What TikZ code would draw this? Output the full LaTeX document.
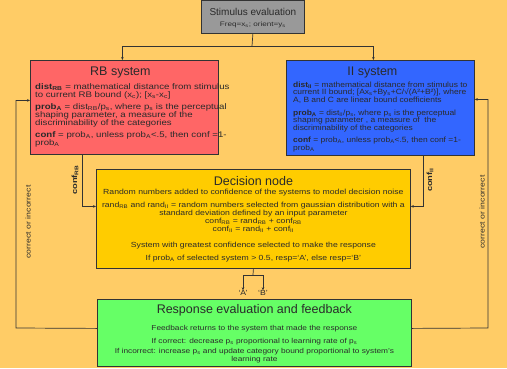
\documentclass[tikz,border=0pt]{standalone}
\usepackage{fontspec}
\setmainfont{Liberation Sans}
\newfontfamily\widesys{Liberation Sans}[FakeStretch=1.25]
\newfontfamily\widerb{Liberation Sans}[FakeStretch=1.19]
\newfontfamily\wideii{Liberation Sans}[FakeStretch=1.11]
\newfontfamily\widedec{Liberation Sans}[FakeStretch=1.17]
\usetikzlibrary{arrows.meta}
\definecolor{bgorange}{HTML}{FFCC66}
\definecolor{stimgray}{HTML}{999999}
\definecolor{rbred}{HTML}{FF6666}
\definecolor{iiblue}{HTML}{3366FF}
\definecolor{decyellow}{HTML}{FFCC00}
\definecolor{respgreen}{HTML}{66FF66}
\definecolor{boxline}{HTML}{333333}
\definecolor{textgray}{HTML}{2A2A2A}
\newcommand{\sbs}[1]{\textsubscript{#1}}

\begin{document}
\begin{tikzpicture}[x=1pt,y=-1pt,
  box/.style={draw=boxline, line width=0.8pt, inner sep=0pt, anchor=north west},
  title/.style={font=\fontsize{12.5}{14}\selectfont, text=textgray, inner sep=0pt},
  sysbody/.style={font=\widerb\fontsize{8.1}{8}\selectfont, text=textgray, inner sep=0pt},
  body/.style={font=\widedec\fontsize{7.4}{8}\selectfont, text=textgray, inner sep=0pt},
  side/.style={font=\widesys\fontsize{7}{8}\selectfont, text=textgray, inner sep=0pt, rotate=90},
  link/.style={draw=boxline, line width=0.7pt},
  tip/.style={-{Stealth[length=3pt,width=2.6pt]}}]
        \useasboundingbox (0,0) rectangle (507,368);
        \fill[bgorange] (0,0) rectangle (507,368);
        \node[box, fill=stimgray, minimum width=103pt, minimum height=33.5pt] (stim) at (201,-0.5) {};
        \node[box, fill=rbred, minimum width=188pt, minimum height=94pt] (rb) at (30,60) {};
        \node[box, fill=iiblue, minimum width=188pt, minimum height=95pt] (ii) at (286,60) {};
        \node[box, fill=decyellow, minimum width=314pt, minimum height=99pt] (dec) at (96,169) {};
        \node[box, fill=respgreen, minimum width=314pt, minimum height=67pt] (resp) at (97,299) {};

        \node[title, font=\fontsize{10}{11}\selectfont] (stimtitle) at ([yshift=-12pt]stim.north) {Stimulus evaluation};
        \node[body, font=\widesys\fontsize{6.5}{7}\selectfont] (stimtext) at ([yshift=-25.5pt]stim.north) {Freq=x\sbs{s}; orient=y\sbs{s}};

        \node[title] (rbtitle) at ([xshift=-4pt,yshift=-12pt]rb.north) {RB system};
        \node[sysbody, anchor=north west, align=left] (rbtext) at ([xshift=5pt,yshift=-23pt]rb.north west)
          {\textbf{dist\sbs{RB}} = mathematical distance from stimulus\\
           to current RB bound (x\sbs{c}); [x\sbs{s}-x\sbs{c}]\\[4pt]
           \textbf{prob\sbs{A}} = dist\sbs{RB}/p\sbs{s}, where p\sbs{s} is the perceptual\\
           shaping parameter, a measure of the\\
           discriminability of the categories\\[4pt]
           \textbf{conf} = prob\sbs{A}, unless prob\sbs{A}<.5, then conf =1-\\
           prob\sbs{A}};

        \node[title] (iititle) at ([xshift=-8pt,yshift=-12pt]ii.north) {II system};
        \node[sysbody, font=\wideii\fontsize{7.6}{7.6}\selectfont, anchor=north west, align=left] (iitext) at ([xshift=7pt,yshift=-21.5pt]ii.north west)
          {\textbf{dist\sbs{II}} = mathematical distance from stimulus to\\
           current II bound; [Ax\sbs{s}+By\sbs{s}+C/√(A²+B²)], where\\
           A, B and C are linear bound coefficients\\[5pt]
           \textbf{prob\sbs{A}} = dist\sbs{II}/p\sbs{s}, where p\sbs{s} is the perceptual\\
           shaping parameter , a measure of~ the\\
           discriminability of the categories\\[5pt]
           \textbf{conf} = prob\sbs{A}, unless prob\sbs{A}<.5, then conf =1-\\
           prob\sbs{A}};

        \node[title] (dectitle) at ([yshift=-12pt]dec.north) {Decision node};
        \node[body, anchor=north, align=center] (dectext) at ([yshift=-20pt]dec.north)
          {Random numbers added to confidence of the systems to model decision noise\\[5pt]
           rand\sbs{RB} and rand\sbs{II} = random numbers selected from gaussian distribution with a\\
           standard deviation defined by an input parameter\\
           conf\sbs{RB} = rand\sbs{RB} + conf\sbs{RB}\\
           conf\sbs{II} = rand\sbs{II} + conf\sbs{II}\\[8pt]
           System with greatest confidence selected to make the response\\[5pt]
           If prob\sbs{A} of selected system > 0.5, resp=‘A’, else resp=‘B’};

        \node[title] (resptitle) at ([yshift=-11pt]resp.north) {Response evaluation and feedback};
        \node[body, font=\widedec\fontsize{7.1}{8}\selectfont, anchor=north, align=center] (resptext) at ([yshift=-26pt]resp.north)
          {Feedback returns to the system that made the response\\[5pt]
           If correct: decrease p\sbs{s} proportional to learning rate of p\sbs{s}\\[2pt]
           If incorrect: increase p\sbs{s} and update category bound proportional to system’s\\
           learning rate};

        \coordinate (split) at (252,46);
        \draw[link] (stim.south) -- (split);
        \draw[link, tip] (split) -| ([xshift=-2pt]rb.north);
        \draw[link, tip] (split) -| ([xshift=-7pt]ii.north);

        \draw[link, tip] ([xshift=-42pt]rb.south) |- ([yshift=12.5pt]dec.west);
        \draw[link, tip] ([xshift=43pt]ii.south) |- ([yshift=12.5pt]dec.east);
        \node[side, font=\widesys\fontsize{7.5}{8}\bfseries] (confrb) at (75,180) {conf\sbs{RB}};
        \node[side, font=\widesys\fontsize{7.5}{8}\bfseries] (confii) at (430,180) {conf\sbs{II}};

        \node[body] (ansA) at (243,293) {‘A’};
        \node[body] (ansB) at (263,293) {‘B’};
        \coordinate (fork) at (253,275);
        \draw[link] (dec.south) -- (fork);
        \draw[link, tip] (fork) -| (ansA.north);
        \draw[link, tip] (fork) -| (ansB.north);

        \coordinate (lcorner) at (16,328);
        \coordinate (rcorner) at (488,328);
        \draw[link, tip] ([yshift=4.5pt]resp.west) -- (lcorner) |- ([yshift=7pt]rb.west);
        \draw[link, tip] ([yshift=4.5pt]resp.east) -- (rcorner) |- ([yshift=8.5pt]ii.east);
        \node[side] (fbrb) at (28,222) {correct or incorrect};
        \node[side] (fbii) at (482,212) {correct or incorrect};
\end{tikzpicture}
\end{document}
